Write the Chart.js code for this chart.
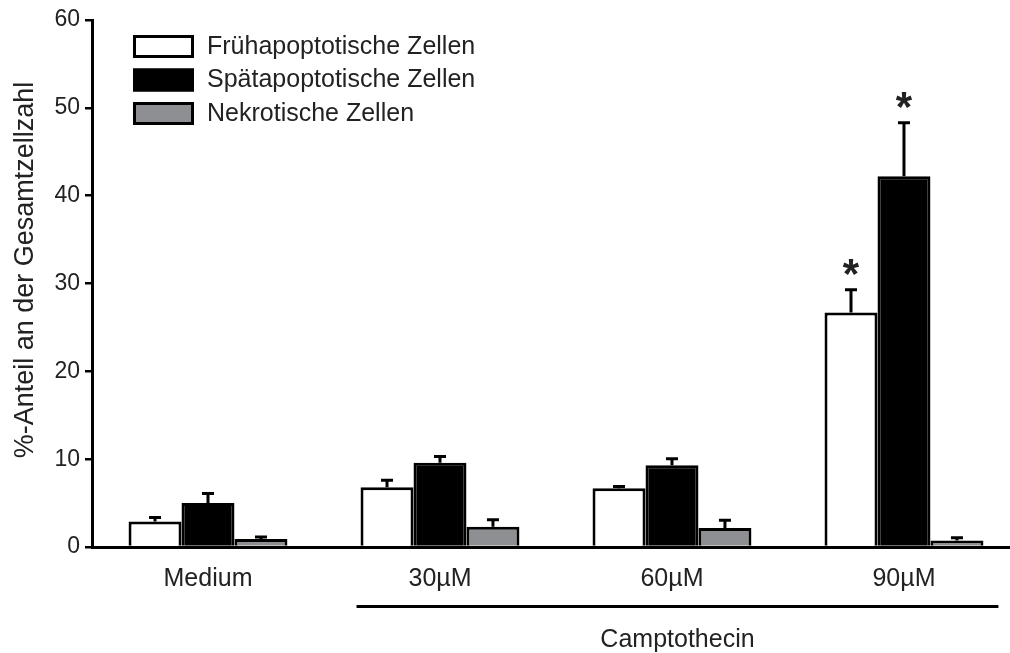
<!DOCTYPE html>
<html lang="de">
<head>
<meta charset="UTF-8">
<title>Camptothecin – Zelltod</title>
<script src="https://cdn.jsdelivr.net/npm/chart.js@4"></script>
<style>
  html, body { margin: 0; padding: 0; background: #fff; }
  #wrap { width: 1010px; height: 653px; position: relative; }
</style>
</head>
<body>
<div id="wrap"><canvas id="chart"></canvas></div>
<script>
const groups = ['Medium', '30µM', '60µM', '90µM'];
const seriesNames = ['Frühapoptotische Zellen', 'Spätapoptotische Zellen', 'Nekrotische Zellen'];
const fruehValues = [2.9, 6.8, 6.7, 26.7];
const fruehErrors = [0.45, 0.8, 0.2, 2.6];
const spaetValues = [5.0, 9.6, 9.3, 42.2];
const spaetErrors = [1.1, 0.7, 0.75, 6.1];
const nekroValues = [0.9, 2.3, 2.15, 0.75];
const nekroErrors = [0.25, 0.8, 0.9, 0.3];
const fruehStars = [false, false, false, true];
const spaetStars = [false, false, false, true];
const nekroStars = [false, false, false, false];
const yTicks = [0, 10, 20, 30, 40, 50, 60];
const yTitle = '%-Anteil an der Gesamtzellzahl';
const treatmentLabel = 'Camptothecin';

const FONT = '"Liberation Sans", Arial, sans-serif';
const values = [fruehValues, spaetValues, nekroValues];
const errors = [fruehErrors, spaetErrors, nekroErrors];
const stars = [fruehStars, spaetStars, nekroStars];
const fills = ['#ffffff', '#000000', '#8d8f92'];

function points(arr) {
  return arr.map((v, i) => ({ x: i, y: v }));
}

const extras = {
  id: 'extras',
  afterDatasetsDraw(chart) {
    const ctx = chart.ctx;
    const y = chart.scales.y;
    ctx.save();
    ctx.strokeStyle = '#000';
    ctx.lineWidth = 3;
    ctx.fillStyle = '#222';
    ctx.font = 'bold 42px ' + FONT;
    ctx.textAlign = 'center';
    ctx.textBaseline = 'alphabetic';
    chart.data.datasets.forEach((ds, d) => {
      chart.getDatasetMeta(d).data.forEach((bar, i) => {
        const top = y.getPixelForValue(values[d][i] + errors[d][i]);
        ctx.beginPath();
        ctx.moveTo(bar.x, bar.y);
        ctx.lineTo(bar.x, top);
        ctx.moveTo(bar.x - 6, top);
        ctx.lineTo(bar.x + 6, top);
        ctx.stroke();
        if (stars[d][i]) ctx.fillText('*', bar.x, top - 2);
      });
    });
    ctx.restore();
  },
  afterDraw(chart) {
    const ctx = chart.ctx;
    ctx.save();
    // legend
    chart.data.datasets.forEach((ds, d) => {
      const bx = 133, by = 35 + d * 33.5;
      ctx.fillStyle = ds.backgroundColor;
      ctx.fillRect(bx, by, 61, 23);
      ctx.strokeStyle = '#000';
      ctx.lineWidth = 3;
      ctx.strokeRect(bx + 1.5, by + 1.5, 58, 20);
      ctx.fillStyle = '#222';
      ctx.font = '25px ' + FONT;
      ctx.textAlign = 'left';
      ctx.textBaseline = 'middle';
      ctx.fillText(ds.label, 207, by + 12);
    });
    // y title
    ctx.save();
    ctx.translate(26, 270);
    ctx.rotate(-Math.PI / 2);
    ctx.font = '27px ' + FONT;
    ctx.fillStyle = '#222';
    ctx.textAlign = 'center';
    ctx.textBaseline = 'middle';
    ctx.fillText(yTitle, 0, 0);
    ctx.restore();
    // treatment bracket
    const first = chart.getDatasetMeta(0).data[1];
    const last = chart.getDatasetMeta(2).data[3];
    const x0 = first.x - first.width / 2 - 4;
    const x1 = last.x + last.width / 2 + 15;
    ctx.strokeStyle = '#000';
    ctx.lineWidth = 3;
    ctx.beginPath();
    ctx.moveTo(x0, 606.5);
    ctx.lineTo(x1, 606.5);
    ctx.stroke();
    ctx.fillStyle = '#222';
    ctx.font = '25px ' + FONT;
    ctx.textAlign = 'center';
    ctx.textBaseline = 'middle';
    ctx.fillText(treatmentLabel, (x0 + x1) / 2, 640);
    ctx.restore();
  }
};

new Chart(document.getElementById('chart'), {
  type: 'bar',
  data: {
    datasets: seriesNames.map((name, d) => ({
      label: name,
      data: points(values[d]),
      backgroundColor: fills[d],
      borderColor: '#000',
      borderWidth: 3,
      borderSkipped: 'start',
      categoryPercentage: 0.685,
      barPercentage: 1
    }))
  },
  options: {
    responsive: true,
    maintainAspectRatio: false,
    animation: false,
    layout: { padding: { top: 20, right: 0, left: 0, bottom: 0 } },
    plugins: { legend: { display: false }, tooltip: { enabled: false } },
    scales: {
      x: {
        type: 'linear',
        offset: false,
        min: -0.5,
        max: 3.457,
        afterBuildTicks: s => { s.ticks = groups.map((g, i) => ({ value: i })); },
        ticks: {
          callback: v => groups[v],
          font: { family: FONT, size: 25 },
          color: '#222',
          padding: 9,
          autoSkip: false,
          maxRotation: 0
        },
        grid: { display: false, offset: false },
        border: { display: true, width: 3, color: '#000' },
        afterFit: s => { s.height = 106; }
      },
      y: {
        min: 0,
        max: 60,
        afterBuildTicks: s => { s.ticks = yTicks.map(v => ({ value: v })); },
        ticks: { font: { family: FONT, size: 23 }, color: '#222', padding: 5 },
        grid: { display: true, drawOnChartArea: false, drawTicks: true, tickLength: 7, lineWidth: 2.5, color: '#000' },
        border: { display: true, width: 3, color: '#000' },
        afterFit: s => { s.width = 92; }
      }
    }
  },
  plugins: [extras]
});
</script>
</body>
</html>
